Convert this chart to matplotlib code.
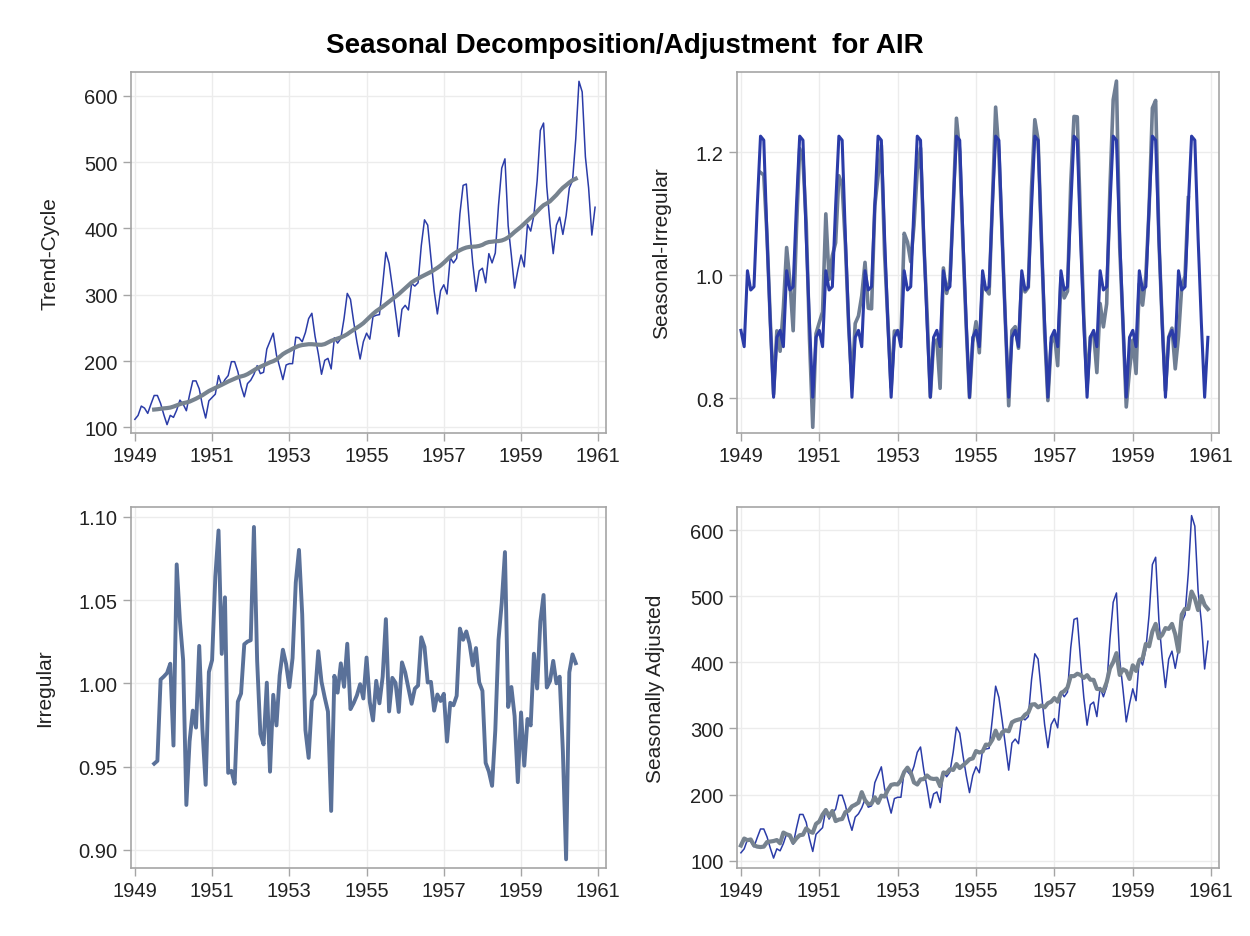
import numpy as np
import matplotlib
matplotlib.use("Agg")
import matplotlib.pyplot as plt

plt.rcParams["font.family"] = ["Liberation Sans", "DejaVu Sans"]

# monthly airline passengers (AIR), Jan 1949 - Dec 1960
air = [
    112, 118, 132, 129, 121, 135, 148, 148, 136, 119, 104, 118,
    115, 126, 141, 135, 125, 149, 170, 170, 158, 133, 114, 140,
    145, 150, 178, 163, 172, 178, 199, 199, 184, 162, 146, 166,
    171, 180, 193, 181, 183, 218, 230, 242, 209, 191, 172, 194,
    196, 196, 236, 235, 229, 243, 264, 272, 237, 211, 180, 201,
    204, 188, 235, 227, 234, 264, 302, 293, 259, 229, 203, 229,
    242, 233, 267, 269, 270, 315, 364, 347, 312, 274, 237, 278,
    284, 277, 317, 313, 318, 374, 413, 405, 355, 306, 271, 306,
    315, 301, 356, 348, 355, 422, 465, 467, 404, 347, 305, 336,
    340, 318, 362, 348, 363, 435, 491, 505, 404, 359, 310, 337,
    360, 342, 406, 396, 420, 472, 548, 559, 463, 407, 362, 405,
    417, 391, 419, 461, 472, 535, 622, 606, 508, 461, 390, 432,
]

# trend-cycle, Jul 1949 - Jun 1960
trend = [
    126.79, 127.25, 127.96, 128.58, 129.00, 129.75,
    131.25, 133.08, 134.92, 136.42, 137.42, 138.75, 140.92, 143.17, 145.71, 148.42, 151.54, 154.71,
    157.12, 159.54, 161.83, 164.12, 166.67, 169.08, 171.25, 173.58, 175.46, 176.83, 178.04, 180.17,
    183.12, 186.21, 189.04, 191.29, 193.58, 195.83, 198.04, 199.75, 202.21, 206.25, 210.42, 213.38,
    215.83, 218.50, 220.92, 222.92, 224.08, 224.71, 225.33, 225.33, 224.96, 224.58, 224.46, 225.54,
    228.00, 230.46, 232.25, 233.92, 235.62, 237.75, 240.50, 243.96, 247.17, 250.25, 253.50, 257.12,
    261.83, 266.67, 271.12, 275.21, 278.50, 281.96, 285.75, 289.33, 293.25, 297.17, 301.00, 305.46,
    309.96, 314.42, 318.62, 321.75, 324.50, 327.08, 329.54, 331.83, 334.46, 337.54, 340.54, 344.08,
    348.25, 353.00, 357.62, 361.38, 364.50, 367.17, 369.46, 371.21, 372.17, 372.42, 372.75, 373.62,
    375.25, 377.92, 379.50, 380.00, 380.71, 380.96, 381.83, 383.67, 386.50, 390.33, 394.71, 398.62,
    402.54, 407.17, 411.88, 416.33, 420.50, 425.50, 430.71, 435.12, 437.71, 440.96, 445.83, 450.62,
    456.33, 461.38, 465.21, 469.33, 472.75, 475.04,
]

# seasonal component, Jan 1949 - Dec 1960
seasonal = [
    0.9102, 0.8836, 1.0073, 0.9759, 0.9813, 1.1127, 1.2265, 1.2199, 1.0604, 0.9217, 0.8012, 0.8988,
    0.9102, 0.8836, 1.0073, 0.9759, 0.9813, 1.1127, 1.2265, 1.2199, 1.0604, 0.9217, 0.8012, 0.8988,
    0.9102, 0.8836, 1.0073, 0.9759, 0.9813, 1.1127, 1.2265, 1.2199, 1.0604, 0.9217, 0.8012, 0.8988,
    0.9102, 0.8836, 1.0073, 0.9759, 0.9813, 1.1127, 1.2265, 1.2199, 1.0604, 0.9217, 0.8012, 0.8988,
    0.9102, 0.8836, 1.0073, 0.9759, 0.9813, 1.1127, 1.2265, 1.2199, 1.0604, 0.9217, 0.8012, 0.8988,
    0.9102, 0.8836, 1.0073, 0.9759, 0.9813, 1.1127, 1.2265, 1.2199, 1.0604, 0.9217, 0.8012, 0.8988,
    0.9102, 0.8836, 1.0073, 0.9759, 0.9813, 1.1127, 1.2265, 1.2199, 1.0604, 0.9217, 0.8012, 0.8988,
    0.9102, 0.8836, 1.0073, 0.9759, 0.9813, 1.1127, 1.2265, 1.2199, 1.0604, 0.9217, 0.8012, 0.8988,
    0.9102, 0.8836, 1.0073, 0.9759, 0.9813, 1.1127, 1.2265, 1.2199, 1.0604, 0.9217, 0.8012, 0.8988,
    0.9102, 0.8836, 1.0073, 0.9759, 0.9813, 1.1127, 1.2265, 1.2199, 1.0604, 0.9217, 0.8012, 0.8988,
    0.9102, 0.8836, 1.0073, 0.9759, 0.9813, 1.1127, 1.2265, 1.2199, 1.0604, 0.9217, 0.8012, 0.8988,
    0.9102, 0.8836, 1.0073, 0.9759, 0.9813, 1.1127, 1.2265, 1.2199, 1.0604, 0.9217, 0.8012, 0.8988,
]

# seasonal-irregular, Jul 1949 - Jun 1960
seas_irr = [
    1.1673, 1.1631, 1.0628, 0.9255, 0.8062, 0.9094,
    0.8762, 0.9468, 1.0451, 0.9896, 0.9096, 1.0739, 1.2064, 1.1874, 1.0843, 0.8961, 0.7523, 0.9049,
    0.9229, 0.9402, 1.0999, 0.9932, 1.0320, 1.0528, 1.1620, 1.1464, 1.0487, 0.9161, 0.8200, 0.9214,
    0.9338, 0.9667, 1.0209, 0.9462, 0.9453, 1.1132, 1.1614, 1.2115, 1.0336, 0.9261, 0.8174, 0.9092,
    0.9081, 0.8970, 1.0683, 1.0542, 1.0220, 1.0814, 1.1716, 1.2071, 1.0535, 0.9395, 0.8019, 0.8912,
    0.8947, 0.8158, 1.0118, 0.9704, 0.9931, 1.1104, 1.2557, 1.2010, 1.0479, 0.9151, 0.8008, 0.8906,
    0.9243, 0.8737, 0.9848, 0.9774, 0.9695, 1.1172, 1.2738, 1.1993, 1.0639, 0.9220, 0.7874, 0.9101,
    0.9162, 0.8810, 0.9949, 0.9728, 0.9800, 1.1435, 1.2533, 1.2205, 1.0614, 0.9066, 0.7958, 0.8893,
    0.9045, 0.8527, 0.9955, 0.9630, 0.9739, 1.1493, 1.2586, 1.2580, 1.0855, 0.9317, 0.8182, 0.8993,
    0.9061, 0.8414, 0.9539, 0.9158, 0.9535, 1.1418, 1.2859, 1.3162, 1.0453, 0.9197, 0.7854, 0.8454,
    0.8943, 0.8399, 0.9857, 0.9512, 0.9988, 1.1093, 1.2723, 1.2847, 1.0578, 0.9230, 0.8120, 0.8988,
    0.9138, 0.8475, 0.9007, 0.9823, 0.9984, 1.1262,
]

# irregular, Jul 1949 - Jun 1960
irregular = [
    0.9517, 0.9534, 1.0023, 1.0041, 1.0062, 1.0118,
    0.9626, 1.0715, 1.0375, 1.0140, 0.9269, 0.9651, 0.9836, 0.9734, 1.0225, 0.9722, 0.9390, 1.0068,
    1.0140, 1.0641, 1.0919, 1.0177, 1.0517, 0.9462, 0.9474, 0.9397, 0.9890, 0.9939, 1.0235, 1.0251,
    1.0259, 1.0940, 1.0135, 0.9696, 0.9633, 1.0004, 0.9469, 0.9931, 0.9747, 1.0048, 1.0202, 1.0116,
    0.9977, 1.0152, 1.0606, 1.0802, 1.0415, 0.9719, 0.9552, 0.9895, 0.9935, 1.0193, 1.0009, 0.9915,
    0.9830, 0.9233, 1.0045, 0.9944, 1.0120, 0.9979, 1.0238, 0.9845, 0.9882, 0.9928, 0.9995, 0.9909,
    1.0155, 0.9888, 0.9777, 1.0015, 0.9880, 1.0040, 1.0386, 0.9831, 1.0033, 1.0003, 0.9828, 1.0126,
    1.0066, 0.9971, 0.9877, 0.9968, 0.9987, 1.0277, 1.0219, 1.0005, 1.0009, 0.9836, 0.9933, 0.9894,
    0.9937, 0.9650, 0.9883, 0.9868, 0.9925, 1.0329, 1.0262, 1.0312, 1.0237, 1.0108, 1.0212, 1.0006,
    0.9955, 0.9522, 0.9470, 0.9384, 0.9717, 1.0262, 1.0484, 1.0789, 0.9858, 0.9978, 0.9803, 0.9406,
    0.9825, 0.9505, 0.9786, 0.9747, 1.0178, 0.9969, 1.0373, 1.0531, 0.9975, 1.0014, 1.0135, 1.0000,
    1.0040, 0.9591, 0.8942, 1.0066, 1.0174, 1.0121,
]

# seasonally adjusted, Jan 1949 - Dec 1960
seas_adj = [
    123.05, 133.54, 131.04, 132.19, 123.31, 121.33, 120.67, 121.32, 128.25, 129.11, 129.81, 131.29,
    126.35, 142.60, 139.98, 138.33, 127.38, 133.91, 138.61, 139.36, 149.00, 144.30, 142.29, 155.76,
    159.31, 169.76, 176.71, 167.03, 175.28, 159.97, 162.25, 163.13, 173.52, 175.76, 182.23, 184.69,
    187.87, 203.71, 191.60, 185.47, 186.49, 195.92, 187.53, 198.38, 197.10, 207.23, 214.68, 215.84,
    215.34, 221.82, 234.29, 240.80, 233.36, 218.39, 215.25, 222.97, 223.50, 228.92, 224.66, 223.63,
    224.13, 212.77, 233.30, 232.61, 238.46, 237.26, 246.23, 240.18, 244.25, 248.45, 253.37, 254.78,
    265.88, 263.69, 265.07, 275.64, 275.15, 283.09, 296.78, 284.45, 294.23, 297.28, 295.81, 309.30,
    312.02, 313.49, 314.70, 320.73, 324.06, 336.12, 336.73, 331.99, 334.78, 332.00, 338.24, 340.45,
    346.08, 340.65, 353.42, 356.59, 361.77, 379.26, 379.13, 382.82, 380.99, 376.48, 380.68, 373.83,
    373.54, 359.89, 359.38, 356.59, 369.92, 390.94, 400.33, 413.97, 380.99, 389.49, 386.92, 374.94,
    395.52, 387.05, 403.06, 405.78, 428.00, 424.19, 446.80, 458.23, 436.63, 441.58, 451.82, 450.60,
    458.14, 442.51, 415.96, 472.38, 481.00, 480.81, 507.13, 496.76, 479.06, 500.16, 486.77, 480.64,
]

months = 1949 + np.arange(len(air)) / 12.0
months_mid = months[6:6 + len(trend)]

BLUE = "#2b3ca8"
GRAY = "#77838f"
SI_GRAY = "#6f7e94"
STEEL = "#5a7199"
FRAME = "#a5a5a5"
GRID = "#ececec"

fig = plt.figure(figsize=(12.5, 9.37), dpi=100)
fig.text(0.5, 0.951, "Seasonal Decomposition/Adjustment  for AIR",
         ha="center", va="center", fontsize=20, fontweight="bold")

lx, rx = 131 / 1250, 737 / 1250
lw_, rw_ = 475 / 1250, 482 / 1250
ty, by = 1 - 434 / 937, 1 - 869 / 937
h = 361 / 937

ax1 = fig.add_axes([lx, ty, lw_, h])
ax2 = fig.add_axes([rx, ty, rw_, h])
ax3 = fig.add_axes([lx, by, lw_, h])
ax4 = fig.add_axes([rx, by, rw_, h])

ax1.plot(months, air, color=BLUE, lw=1.1, zorder=2)
ax1.plot(months_mid, trend, color=GRAY, lw=3.0, zorder=3)
ax1.set_ylim(91.4, 636)
ax1.set_yticks([100, 200, 300, 400, 500, 600])
ax1.set_ylabel("Trend-Cycle")

ax2.plot(months_mid, seas_irr, color=SI_GRAY, lw=2.6, zorder=2)
ax2.plot(months, seasonal, color=BLUE, lw=2.2, zorder=3)
ax2.set_ylim(0.743, 1.331)
ax2.set_yticks([0.8, 1.0, 1.2])
ax2.set_yticklabels(["0.8", "1.0", "1.2"])
ax2.set_ylabel("Seasonal-Irregular")

ax3.plot(months_mid, irregular, color=STEEL, lw=2.8, zorder=3)
ax3.set_ylim(0.889, 1.106)
ax3.set_yticks([0.90, 0.95, 1.00, 1.05, 1.10])
ax3.set_yticklabels(["0.90", "0.95", "1.00", "1.05", "1.10"])
ax3.set_ylabel("Irregular")

ax4.plot(months, air, color=BLUE, lw=1.1, zorder=2)
ax4.plot(months, seas_adj, color=GRAY, lw=3.0, zorder=3)
ax4.set_ylim(89, 635)
ax4.set_yticks([100, 200, 300, 400, 500, 600])
ax4.set_ylabel("Seasonally Adjusted")

for ax in (ax1, ax2, ax3, ax4):
    ax.set_xlim(1948.9, 1961.2)
    ax.set_xticks(range(1949, 1962, 2))
    ax.grid(True, color=GRID, lw=1.0, zorder=0)
    ax.set_axisbelow(True)
    for sp in ax.spines.values():
        sp.set_color(FRAME)
        sp.set_linewidth(1.2)
    ax.tick_params(axis="both", colors=FRAME, labelcolor="#222222",
                   labelsize=14.5, length=6, width=1.0, direction="out")
    ax.yaxis.label.set_size(15)
    ax.yaxis.label.set_color("#222222")
    ax.yaxis.labelpad = 18

fig.savefig("out.png", dpi=100, facecolor="white")
